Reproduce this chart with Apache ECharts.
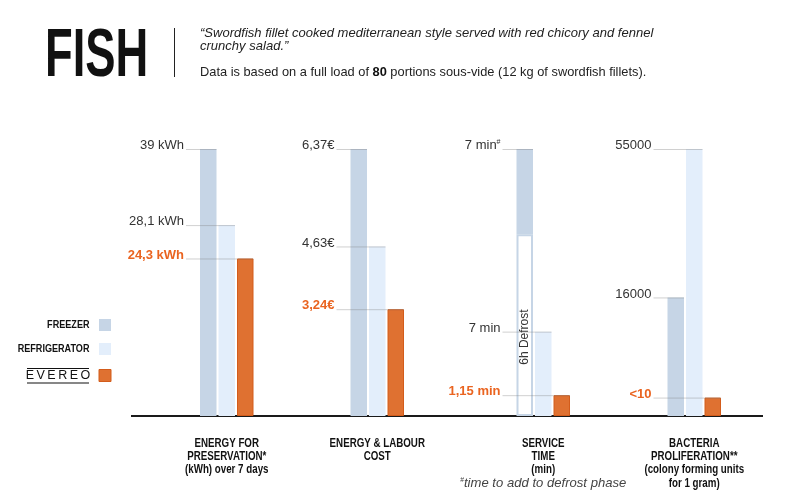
<!DOCTYPE html>
<html>
<head>
<meta charset="utf-8">
<script src="https://cdn.jsdelivr.net/npm/echarts@6/dist/echarts.min.js"></script>
<style>
  html, body { margin: 0; background: #fff; }
  #chart { width: 800px; height: 504px; }
</style>
</head>
<body>
<div id="chart"></div>
<script>
const categories = ['FREEZER', 'REFRIGERATOR', 'EVEREO']
const colors = ['#c6d5e6', '#e3eefb', '#df7131']
const orange = '#ea6420'

const panelTitles = [
  'ENERGY FOR\nPRESERVATION*\n(kWh) over 7 days',
  'ENERGY & LABOUR\nCOST',
  'SERVICE\nTIME\n(min)',
  'BACTERIA\nPROLIFERATION**\n(colony forming units\nfor 1 gram)',
]
const timeNote = 'time to add to defrost phase'

// bar heights as drawn in the picture, % of the tallest bar of each panel
const energyHeights = [100, 71.5, 59]
const costHeights = [100, 63.5, 40]
const timeHeights = [31.9, 31.6, 7.8]
const defrostHeight = 68.1
const bacteriaHeights = [44.4, 100, 6.9]

const energyLabels = ['39 kWh', '28,1 kWh', '24,3 kWh']
const costLabels = ['6,37€', '4,63€', '3,24€']
const timeLabels = ['7 min{s|#}', '7 min', '1,15 min']
const bacteriaLabels = ['16000', '55000', '<10']

const gridLefts = [199, 349.5, 515.5, 666.5]
const gridWidth = 55.5
const font = 'Liberation Sans'
const squeeze = 0.82 // Liberation Sans squeezed to a narrow face

const chart = echarts.init(document.getElementById('chart'))

const panels = [
  { heights: energyHeights, labels: energyLabels },
  { heights: costHeights, labels: costLabels },
  { heights: timeHeights, labels: timeLabels, defrost: defrostHeight },
  { heights: bacteriaHeights, labels: bacteriaLabels },
]

function narrowText(text, x, y, style, sx) {
  return {
    type: 'text', x, y, scaleX: sx || squeeze,
    style: Object.assign({ text, fontFamily: font, fontSize: 11.5, fill: '#1a1a1a' }, style),
  }
}

const grids = []
const xAxes = []
const yAxes = []
const series = []
const titles = []

panels.forEach((p, i) => {
  grids.push({ left: gridLefts[i], width: gridWidth, top: 149, bottom: 88, outerBoundsMode: 'none' })
  xAxes.push({
    gridIndex: i, type: 'category', data: categories,
    axisLine: { show: false }, axisTick: { show: false }, axisLabel: { show: false },
  })
  yAxes.push({ gridIndex: i, type: 'value', min: 0, max: 100, show: false })

  const itemColors = (j) => ({
    color: colors[j],
    borderColor: j === 2 ? '#d35c1b' : colors[j],
    borderWidth: j === 2 ? 1 : 0,
  })

  if (p.defrost) {
    series.push({
      type: 'bar', xAxisIndex: i, yAxisIndex: i, stack: 't', barWidth: 16.5,
      data: [
        {
          value: p.defrost,
          itemStyle: { color: '#fff', borderColor: colors[0], borderWidth: 2 },
          label: {
            show: true, position: 'inside', rotate: 90, formatter: '6h Defrost',
            fontFamily: font, fontSize: 12, color: '#333', offset: [-12, 0],
          },
        },
        { value: p.heights[1], itemStyle: itemColors(1) },
        { value: p.heights[2], itemStyle: itemColors(2) },
      ],
    })
    series.push({
      type: 'bar', xAxisIndex: i, yAxisIndex: i, stack: 't', barWidth: 16.5,
      data: [{ value: p.heights[0], itemStyle: itemColors(0) }, '-', '-'],
    })
  } else {
    series.push({
      type: 'bar', xAxisIndex: i, yAxisIndex: i, barWidth: 16.5,
      data: p.heights.map((h, j) => ({ value: h, itemStyle: itemColors(j) })),
    })
  }

  const tops = p.heights.map((h, j) => (j === 0 && p.defrost ? h + p.defrost : h))
  series.push({
    type: 'custom', xAxisIndex: i, yAxisIndex: i, z: 5, clip: false,
    data: tops.map((h, j) => [j, h]),
    renderItem(params, api) {
      const j = params.dataIndex
      const top = api.coord([api.value(0), api.value(1)])
      const x0 = params.coordSys.x - 15
      const ev = j === 2
      return {
        type: 'group',
        children: [
          {
            type: 'line',
            shape: { x1: x0 + 2, y1: top[1] + 0.5, x2: top[0] + 8.25, y2: top[1] + 0.5 },
            style: { stroke: 'rgba(120,120,120,0.35)', lineWidth: 1 },
          },
          {
            type: 'text',
            style: {
              text: p.labels[j], x: x0, y: top[1] + 3, align: 'right', verticalAlign: 'bottom',
              fontFamily: font, fontSize: 13, fontWeight: ev ? 'bold' : 'normal',
              fill: ev ? orange : '#333',
              rich: { s: { fontSize: 7, verticalAlign: 'top', fill: '#333' } },
            },
          },
        ],
      }
    },
  })

  // panel title under the baseline
  titles.push(narrowText(panelTitles[i], gridLefts[i] + gridWidth / 2, 436.5, {
    align: 'center', verticalAlign: 'top', fontWeight: 'bold', fontSize: 12.5, lineHeight: 13.3, fill: '#111',
  }, 0.78))
})

titles.push(narrowText('{s|#}' + timeNote, gridLefts[2] + gridWidth / 2, 483.5, {
  align: 'center', verticalAlign: 'middle', fontStyle: 'italic', fontSize: 13.5, fill: '#444',
  rich: { s: { fontSize: 7, verticalAlign: 'top', fill: '#444' } },
}, 0.97))

const legendYs = [325, 349, 375.5]
const legend = []
categories.forEach((c, j) => {
  legend.push({
    type: 'rect', shape: { x: 99, y: legendYs[j] - 6, width: 12, height: 12 },
    style: { fill: colors[j], stroke: j === 2 ? '#d35c1b' : null, lineWidth: 1 },
  })
  if (j < 2) {
    legend.push(narrowText(c, 89.5, legendYs[j], { align: 'right', verticalAlign: 'middle', fontWeight: 'bold', fontSize: 11.5, fill: '#111' }, 0.79))
  } else {
    legend.push({
      type: 'text', x: 58, y: legendYs[j],
      style: { text: c.split('').join('\u2009'), align: 'center', verticalAlign: 'middle', fontFamily: font, fontSize: 12.5, fill: '#111' },
    })
    legend.push({ type: 'line', shape: { x1: 27, y1: 368.5, x2: 89, y2: 368.5 }, style: { stroke: '#111', lineWidth: 1.2 } })
    legend.push({ type: 'line', shape: { x1: 27, y1: 383, x2: 89, y2: 383 }, style: { stroke: '#111', lineWidth: 1.2 } })
  }
})

chart.setOption({
  animation: false,
  grid: grids,
  xAxis: xAxes,
  yAxis: yAxes,
  series: series,
  graphic: [
    narrowText('FISH', 45, 57, { verticalAlign: 'middle', fontWeight: 'bold', fontSize: 68, fill: '#111' }, 0.667),
    { type: 'line', shape: { x1: 174.5, y1: 28, x2: 174.5, y2: 77 }, style: { stroke: '#222', lineWidth: 1 } },
    narrowText('\u201cSwordfish fillet cooked mediterranean style served with red chicory and fennel', 200, 33.5,
      { verticalAlign: 'middle', fontStyle: 'italic', fontSize: 13.5, fill: '#222' }, 0.965),
    narrowText('crunchy salad.\u201d', 200, 46,
      { verticalAlign: 'middle', fontStyle: 'italic', fontSize: 13.5, fill: '#222' }, 0.965),
    narrowText('Data is based on a full load of {b|80} portions sous-vide (12 kg of swordfish fillets).', 200, 72.5, {
      verticalAlign: 'middle', fontSize: 13.5, fill: '#222',
      rich: { b: { fontFamily: font, fontSize: 13.5, fontWeight: 'bold', fill: '#111' } },
    }, 0.95),
    { type: 'line', shape: { x1: 131, y1: 416, x2: 763, y2: 416 }, style: { stroke: '#1a1a1a', lineWidth: 2 } },
    ...titles,
    ...legend,
  ],
})
</script>
</body>
</html>
